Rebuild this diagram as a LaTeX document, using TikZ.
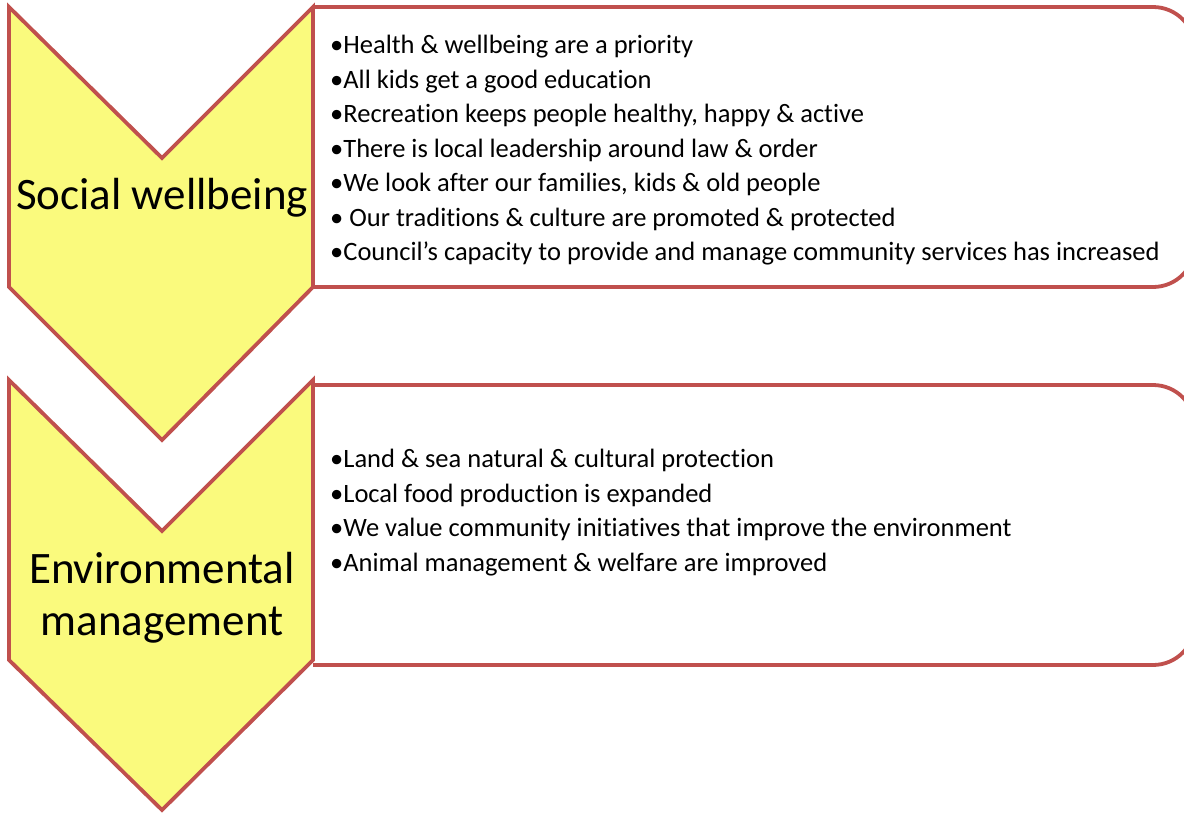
\documentclass[tikz,border=0pt]{standalone}
\usepackage{fontspec}
\setmainfont[Ligatures=NoCommon]{Carlito}
\usetikzlibrary{positioning}

\definecolor{chevfill}{HTML}{FAFA7D}
\definecolor{edgered}{HTML}{C0504D}

\begin{document}
\begin{tikzpicture}[
        x=1pt, y=-1pt,
        chevron/.style={draw=edgered, fill=chevfill, line width=3.8pt, line join=miter},
        listbox/.style={draw=edgered, fill=white, line width=3.8pt, rounded corners=42pt},
        label/.style={align=center, font=\fontsize{45}{52}\selectfont},
        items/.style={anchor=north west, align=left, inner sep=0pt, font=\fontsize{26.5}{34.5}\selectfont}
    ]
    \useasboundingbox (0,0) rectangle (1184,812);

    % Boxes on the right (rounded on the right side only)
    \draw[listbox] (313,7) -- (1195,7) -- (1195,287) -- (313,287);
    \draw[listbox] (313,385) -- (1195,385) -- (1195,665) -- (313,665);

    % Chevrons
    \draw[chevron] (9,7) -- (162,158) -- (313,7) -- (313,287) -- (162,440) -- (9,287) -- cycle;
    \draw[chevron] (9,380) -- (162,531) -- (313,380) -- (313,660) -- (162,810) -- (9,660) -- cycle;

    % Labels
    \node[label] (social) at (162,198) {Social wellbeing};
    \node[label] (environ) at (162,598) {Environmental\\management};

    % Lists
    \node[items] (sociallist) at (330,35) {%
        •Health \& wellbeing are a priority\\
        •All kids get a good education\\
        •Recreation keeps people healthy, happy \& active\\
        •There is local leadership around law \& order\\
        •We look after our families, kids \& old people\\
        • Our traditions \& culture are promoted \& protected\\
        •Council’s capacity to provide and manage community services has increased};
    \node[items] (environlist) at (330,449) {%
        •Land \& sea natural \& cultural protection\\
        •Local food production is expanded\\
        •We value community initiatives that improve the environment\\
        •Animal management \& welfare are improved};
\end{tikzpicture}
\end{document}
